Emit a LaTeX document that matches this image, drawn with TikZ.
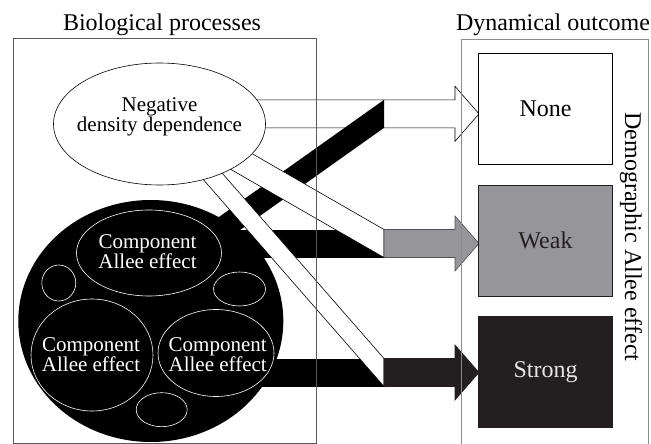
\documentclass[tikz,border=0pt]{standalone}
\usepackage{fontspec}
\setmainfont{Liberation Serif}
\usetikzlibrary{shapes.geometric}
\begin{document}
\begin{tikzpicture}[x=1pt,y=-1pt,
  outbox/.style={draw,line width=.8pt,minimum width=134pt,minimum height=111pt,
    inner sep=0pt,font=\fontsize{24}{24}\selectfont},
  blob/.style={ellipse,inner sep=0pt,outer sep=0pt},
  compae/.style={blob,draw=white,line width=.6pt},
  comptext/.style={align=center,text=white,inner sep=0pt,font=\fontsize{21}{20}\selectfont},
  band/.style={fill=white,draw=black,line width=.6pt},
  title/.style={anchor=base,inner sep=0pt,font=\fontsize{24}{24}\selectfont}]
 \definecolor{rgrey}{RGB}{150,150,154}
 \definecolor{rdark}{RGB}{35,31,32}
 \definecolor{rframe}{RGB}{90,90,90}
 \useasboundingbox (0,0) rectangle (651,444);
 % junctions in front of the outcome arrows
 \coordinate (jnone) at (384,113.85);
 \coordinate (jweak) at (384,243.5);
 \coordinate (jstrong) at (384,372.5);
 % shaft to None
 \filldraw[band] (jnone) ++(-184,-14) -- ++(255,0) -- ++(0,-13.5)
   -- ++(24,27.5) -- ++(-24,27.5) -- ++(0,-13.5) -- ++(-255,0) -- cycle;
 % black bands out of the component effects
 \fill (jnone) ++(0,-14) -- ++(0,28) -- ++(-184,130.6) -- ++(0,-28) -- cycle;
 \foreach \jn in {jweak,jstrong}
   \fill (\jn) ++(0,-14) -- ++(0,28) -- ++(-184,0) -- ++(0,-28) -- cycle;
 \node[blob,fill=black,minimum width=265pt,minimum height=242pt] (cae) at (150.8,321) {};
 % white bands out of negative density dependence
 \filldraw[band] (jweak) ++(0,-14) -- ++(0,28) -- ++(-184,-105.8) -- ++(0,-28) -- cycle;
 \filldraw[band] (jstrong) ++(0,-14) -- ++(0,28) -- ++(-203,-232.5) -- ++(0,-28) -- cycle;
 % outcome arrows
 \foreach \jn/\col/\ln in {jweak/rgrey/rgrey!55!black, jstrong/rdark/rdark}
   \filldraw[fill=\col,draw=\ln,line width=.6pt] (\jn) ++(0,-14) -- ++(71,0) -- ++(0,-13.5)
     -- ++(24,27.5) -- ++(-24,27.5) -- ++(0,-13.5) -- ++(-71,0) -- cycle;
 % component Allee effects
 \node[compae,minimum width=145pt,minimum height=86pt] (ctop) at (149,253) {};
 \node[compae,minimum width=122pt,minimum height=112pt] (cleft) at (92,355) {};
 \node[compae,minimum width=116pt,minimum height=87pt] (cright) at (216,353) {};
 \node[comptext] (ctoptext) at (147.5,251.7) {Component\\Allee effect};
 \node[comptext] (clefttext) at (91,355) {Component\\Allee effect};
 \node[comptext] (crighttext) at (217.7,355) {Component\\Allee effect};
 \node[compae,minimum width=34pt,minimum height=36pt] (gleft) at (58.8,283) {};
 \node[compae,minimum width=52pt,minimum height=34pt] (gright) at (239.5,289) {};
 \node[compae,minimum width=51pt,minimum height=34pt] (gbottom) at (161.7,409.7) {};
 % negative density dependence
 \node[blob,draw,fill=white,line width=.6pt,minimum width=212pt,minimum height=122pt] (ndd) at (159.5,124) {};
 \node[align=center,inner sep=0pt,font=\fontsize{21}{20}\selectfont] (nddtext) at (159.5,116.5)
   {Negative\\density dependence};
 % outcomes
 \node[outbox,fill=white] (none) at (545.5,108.8) {None};
 \node[outbox,fill=rgrey,draw=rdark,text=rdark] (weak) at (545.5,240.4) {Weak};
 \node[outbox,fill=rdark,draw=rdark,text=white!90!black] (strong) at (545.5,371.7) {Strong};
 % frames and titles
 \draw[rframe,line width=.8pt] (13.3,38.3) rectangle (316,443.3);
 \draw[rframe!70,line width=.8pt] (461.7,450) |- (648,39.3) -- (648,450);
 \node[title] (bio) at (162,31) {Biological processes};
 \node[title] (dyn) at (553,31) {Dynamical outcome};
 \node[rotate=-90,inner sep=0pt,font=\fontsize{24}{24}\selectfont] (dae) at (631,237)
   {Demographic Allee effect};
\end{tikzpicture}
\end{document}
